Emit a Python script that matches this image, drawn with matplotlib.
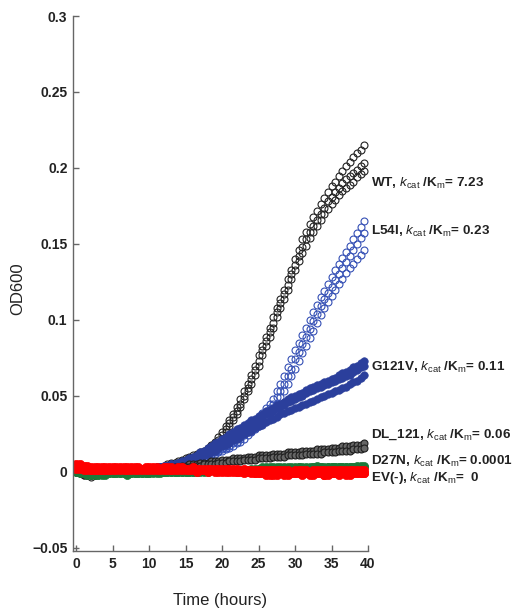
import numpy as np
import matplotlib
matplotlib.use('Agg')
import matplotlib.pyplot as plt

plt.rcParams['font.family'] = ['Liberation Sans', 'DejaVu Sans']
plt.rcParams['mathtext.fontset'] = 'custom'
plt.rcParams['mathtext.rm'] = 'Liberation Sans'
plt.rcParams['mathtext.it'] = 'Liberation Sans:italic'
plt.rcParams['mathtext.bf'] = 'Liberation Sans:bold'

# time points (hours), one reading every 30 min
hours = np.arange(0, 40, 0.5)

# OD600 readings in milli-OD, replicates per strain
wt_a = [1,0,-1,-2,-2,-2,-1,-1,0,0, 0,0,1,1,1,1,1,1,2,2,
        2,2,3,3,4,5,6,6,7,8, 9,10,11,12,13,14,16,18,20,23,
        26,30,34,38,43,48,53,58,64,70, 77,83,89,95,102,108,114,120,127,133,
        140,146,153,158,163,168,172,176,180,184, 188,191,195,198,201,204,207,210,212,215]
wt_b = [0,-1,-2,-2,-3,-2,-2,-1,-1,0, 0,0,0,1,1,1,1,1,1,2,
        2,2,3,3,3,4,5,6,6,7, 8,9,10,11,12,13,15,17,19,21,
        24,28,32,36,40,45,50,55,61,67, 73,80,86,92,98,105,111,117,123,130,
        136,142,148,153,158,162,166,170,174,178, 181,184,187,190,193,195,197,199,201,203]
wt_c = [2,1,0,-1,-1,-1,0,0,0,0, 1,1,1,1,1,1,1,1,2,2,
        2,2,2,3,3,4,4,5,6,7, 8,8,9,10,11,12,14,16,18,20,
        22,26,30,34,38,43,48,53,58,64, 70,77,83,89,95,102,108,114,120,127,
        133,139,144,149,154,158,162,166,170,173, 176,179,182,185,187,189,191,194,196,198]

l54i_a = [1,1,0,0,0,0,0,1,1,1, 1,1,1,1,1,1,2,2,2,2,
          2,2,3,3,4,4,5,5,6,6, 7,7,8,9,10,11,12,13,14,15,
          16,17,19,20,22,24,26,28,30,33, 36,39,42,45,48,53,58,63,69,74,
          80,85,90,95,100,105,110,115,119,124, 128,133,137,141,145,149,153,157,161,165]
l54i_b = [0,0,0,-1,0,0,0,0,1,1, 1,1,1,1,1,1,1,2,2,2,
          2,2,2,3,3,4,4,5,5,6, 6,7,7,8,9,10,11,12,13,14,
          15,16,17,19,20,22,24,26,28,30, 33,36,39,42,45,49,53,58,63,68,
          74,79,84,89,94,99,104,109,114,118, 122,126,130,134,138,142,146,150,154,157]
l54i_c = [1,1,1,0,0,0,0,0,1,1, 1,1,1,1,1,1,1,1,2,2,
          2,2,2,2,3,3,4,4,5,5, 6,6,7,7,8,9,10,11,12,13,
          14,15,16,17,19,20,22,24,26,28, 30,33,36,39,42,45,49,53,58,63,
          68,73,78,83,88,93,98,103,108,112, 116,120,124,127,131,134,137,140,143,146]

g121v_a = [2,1,1,1,1,1,1,1,1,1, 1,1,1,1,1,2,2,2,2,2,
           2,2,3,3,4,4,5,5,6,7, 8,9,10,11,13,14,16,17,19,20,
           22,23,25,26,28,29,31,32,34,35, 37,38,40,41,42,44,45,46,48,49,
           50,51,52,54,55,56,57,58,59,60, 61,62,64,65,66,67,69,70,72,73]
g121v_b = [1,1,1,0,1,1,1,1,1,1, 1,1,1,1,1,1,2,2,2,2,
           2,2,2,3,3,4,4,5,5,6, 7,8,9,10,11,13,14,15,17,18,
           20,21,23,24,26,27,29,30,32,33, 35,36,38,39,40,42,43,44,46,47,
           48,49,50,52,53,54,55,56,57,58, 59,60,61,62,63,64,66,67,69,70]
g121v_c = [1,1,1,1,1,1,1,1,1,1, 1,1,1,1,1,1,1,2,2,2,
           2,2,2,2,3,3,4,4,5,5, 6,7,8,9,10,11,12,13,14,16,
           17,18,19,21,22,23,25,26,27,29, 30,31,33,34,35,36,38,39,40,41,
           42,43,44,45,46,47,48,49,50,51, 52,53,54,55,56,58,59,60,62,64]

dl121_a = [0,-1,-2,-2,-2,-2,-1,-1,-1,0, 0,0,0,0,0,1,1,1,1,1,
           1,1,2,2,2,2,3,3,3,4, 4,5,5,5,6,6,6,7,7,7,
           8,8,8,9,9,9,9,10,10,10, 11,11,11,11,12,12,12,12,13,13,
           13,13,14,14,14,14,15,15,15,15, 16,16,16,17,17,17,18,18,18,19]
dl121_b = [1,0,-1,-1,-2,-1,-1,-1,0,0, 0,0,0,0,0,0,1,1,1,1,
           1,1,1,1,2,2,2,2,3,3, 3,3,4,4,4,5,5,5,5,6,
           6,6,7,7,7,7,8,8,8,8, 9,9,9,9,10,10,10,10,11,11,
           11,11,11,12,12,12,12,12,13,13, 13,13,14,14,14,14,15,15,15,16]

d27n_a = [0,-1,-1,-2,-2,-2,-2,-2,-2,-1, -1,-1,-1,-1,-1,-1,-1,-1,-1,-1,
          -1,0,0,0,0,0,0,0,0,0, 0,0,0,0,1,1,1,1,1,1,
          1,1,1,1,1,1,1,1,2,2, 2,3,3,3,3,3,3,2,3,3,
          3,3,3,3,3,3,4,3,3,3, 3,3,3,3,3,3,3,4,4,4]
d27n_b = [1,0,0,-1,-1,-1,-1,-1,-1,-1, -1,-1,-1,-1,-2,-1,-1,-1,-1,-1,
          -1,-1,-1,-1,0,0,0,0,0,0, 0,0,0,0,0,0,0,1,1,1,
          1,1,1,1,1,1,1,1,1,1, 2,2,2,2,2,2,2,3,2,2,
          2,3,2,2,2,3,3,3,2,3, 3,3,3,3,3,3,3,3,3,3]

ev_a = [5,5,4,4,3,3,3,3,3,3, 3,3,3,3,3,3,3,3,2,3,
        3,3,3,2,3,3,3,2,3,3, 2,2,3,2,2,2,2,2,2,2,
        2,2,2,2,2,1,2,1,1,1, 1,1,1,1,1,1,1,1,1,0,
        1,1,1,1,0,1,1,1,1,1, 1,1,1,1,1,1,1,1,1,1]
ev_b = [3,3,2,2,1,1,1,1,1,1, 1,1,1,1,1,1,1,1,1,1,
        1,1,1,1,1,1,1,1,1,1, 1,1,1,0,1,1,0,1,0,0,
        0,0,0,0,0,0,-1,0,-1,-1, -1,-1,-2,-2,-2,-2,-1,-1,-2,-1,
        -1,-1,-2,-1,-2,-2,-1,-1,-2,-2, -1,-1,-2,-1,-1,-2,-1,-1,-1,-1]
ev_c = [2,2,1,1,1,1,1,1,1,1, 2,2,2,2,1,2,2,2,2,2,
        2,2,2,2,2,2,1,2,2,2, 2,1,2,1,1,1,1,1,1,1,
        1,1,1,1,0,1,0,0,0,-1, -1,0,-1,-1,-1,-1,-1,-2,-1,-1,
        -1,-1,-1,-1,-1,-1,-1,-1,-2,-1, -1,-1,-1,-1,-2,-1,-1,-1,-1,-1]

labels = [
    ('WT', '7.23', 0.190),
    ('L54I', '0.23', 0.158),
    ('G121V', '0.11', 0.069),
    ('DL_121', '0.06', 0.0243),
    ('D27N', '0.0001', 0.0072),
    ('EV(-)', ' 0', -0.0040),
]

fig = plt.figure(figsize=(5.15, 6.12), dpi=100)
ax = fig.add_axes([73/515, 1 - 551/612, (368 - 73)/515, (551 - 16)/612])


def od(v):
    return np.array(v) / 1000.0


for rep in (wt_a, wt_b, wt_c):
    ax.plot(hours, od(rep), 'o', ms=5, mfc='none', mec='#222222', mew=0.8)
for rep in (l54i_a, l54i_b, l54i_c):
    ax.plot(hours, od(rep), 'o', ms=5, mfc='none', mec='#3550b5', mew=0.8)
for rep in (g121v_a, g121v_b, g121v_c):
    ax.plot(hours, od(rep), 'o', ms=5.4, mfc='#2b3f9c', mec='#2b3f9c', mew=0.5)
for rep in (dl121_a, dl121_b):
    ax.plot(hours, od(rep), 'o', ms=5, mfc='#666666', mec='#1e1e1e', mew=0.8)
for rep in (d27n_a, d27n_b):
    ax.plot(hours, od(rep), 'o', ms=5.8, mfc='#1c7a3a', mec='#1c7a3a', mew=0.5)
for rep in (ev_a, ev_b, ev_c):
    ax.plot(hours, od(rep), 'o', ms=6, mfc='#ff0000', mec='#ff0000', mew=0.5)

for name, val, ypos in labels:
    txt = name + r', $\mathit{k}_{\mathrm{cat}}$ /$\mathbf{K}_{\mathrm{m}}$= ' + val
    ax.text(40.4, ypos, txt, fontsize=9.7, fontweight='bold', color='#222222',
            va='center', ha='left', clip_on=False)

ax.set_xlim(-0.45, 40)
ax.set_ylim(-0.052, 0.3)
ax.set_xticks(range(0, 41, 5))
yt = [-0.05, 0, 0.05, 0.1, 0.15, 0.2, 0.25, 0.3]
ax.set_yticks(yt)
ax.set_yticklabels(['\u22120.05', '0', '0.05', '0.1', '0.15', '0.2', '0.25', '0.3'])

for s in ('top', 'right'):
    ax.spines[s].set_visible(False)
for s in ('left', 'bottom'):
    ax.spines[s].set_color('#666666')
    ax.spines[s].set_linewidth(1.0)
ax.tick_params(direction='in', length=4, width=1, color='#666666',
               labelsize=10, labelcolor='#222222', pad=4)
for lab in ax.get_xticklabels() + ax.get_yticklabels():
    lab.set_fontweight('bold')

ax.set_xlabel('Time (hours)', fontsize=12, color='#222222', labelpad=16)
ax.set_ylabel('OD600', fontsize=12, color='#222222')
ax.yaxis.set_label_coords(-0.163, 0.49)

fig.savefig('out.png', dpi=100)
